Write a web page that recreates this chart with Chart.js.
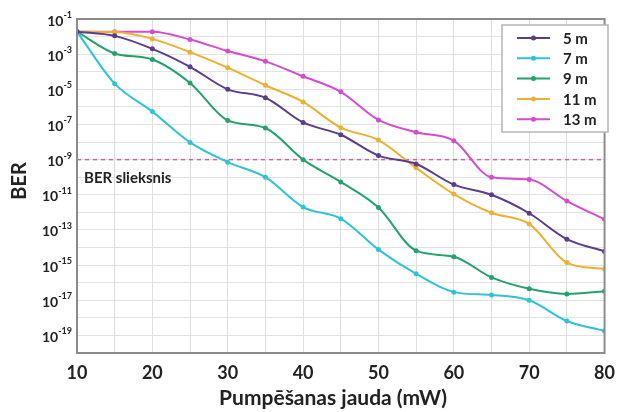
<!DOCTYPE html>
<html>
<head>
<meta charset="utf-8">
<script src="https://cdn.jsdelivr.net/npm/chart.js@4.4.0/dist/chart.umd.min.js"></script>
<style>
  body { margin: 0; background: #fff; }
  #wrap { width: 624px; height: 412px; }
</style>
</head>
<body>
<div id="wrap"><canvas id="berChart"></canvas></div>
<script>
// pump power (mW)
const pumpPower = [10, 15, 20, 25, 30, 35, 40, 45, 50, 55, 60, 65, 70, 75, 80];
const seriesNames = ["5 m", "7 m", "9 m", "11 m", "13 m"];
const seriesColors = ["#5b3d8c", "#2fc3d6", "#23a36b", "#eeb031", "#d64bcf"];

// BER
const ber5m  = [1.9e-2, 1.1e-2, 2.0e-3, 1.9e-4, 1.0e-5, 3.3e-6, 1.3e-7, 2.6e-8, 1.7e-9, 5.6e-10, 3.8e-11, 1.0e-11, 8.9e-13, 3.0e-14, 6.0e-15];
const ber7m  = [1.9e-2, 2.1e-5, 5.4e-7, 9.5e-9, 7.2e-10, 1.0e-10, 2.0e-12, 4.4e-13, 7.6e-15, 3.2e-16, 2.9e-17, 2.0e-17, 1.0e-17, 6.6e-19, 1.8e-19];
const ber9m  = [1.9e-2, 1.1e-3, 5.0e-4, 2.3e-5, 1.7e-7, 6.3e-8, 1.0e-9, 5.4e-11, 1.9e-12, 6.6e-15, 3.0e-15, 2.0e-16, 4.5e-17, 2.3e-17, 3.3e-17];
const ber11m = [1.9e-2, 1.8e-2, 7.4e-3, 1.3e-3, 1.7e-4, 1.7e-5, 1.9e-6, 6.6e-8, 1.3e-8, 3.4e-10, 1.1e-11, 9.5e-13, 2.2e-13, 1.4e-15, 6.0e-16];
const ber13m = [1.9e-2, 1.9e-2, 1.9e-2, 6.8e-3, 1.5e-3, 3.9e-4, 5.5e-5, 7.2e-6, 1.8e-7, 3.6e-8, 1.2e-8, 1.0e-10, 7.4e-11, 4.4e-12, 4.0e-13];
const allSeries = [ber5m, ber7m, ber9m, ber11m, ber13m];

const thresholdBER = 1e-9;
const yTickExponents = [-1, -3, -5, -7, -9, -11, -13, -15, -17, -19];
const xTickLabels = [10, 20, 30, 40, 50, 60, 70, 80];

const FONT = "Lato, 'Open Sans', sans-serif";

const datasets = allSeries.map((vals, i) => ({
  label: seriesNames[i],
  data: vals.map((v, j) => ({ x: pumpPower[j], y: v })),
  borderColor: seriesColors[i],
  backgroundColor: seriesColors[i],
  borderWidth: 2,
  pointRadius: 2.5,
  pointBorderWidth: 0,
  cubicInterpolationMode: "monotone",
}));

datasets.push({
  label: "threshold",
  data: [{ x: pumpPower[0], y: thresholdBER }, { x: pumpPower[pumpPower.length - 1], y: thresholdBER }],
  borderColor: "#c8679f",
  borderWidth: 1.5,
  borderDash: [4, 4],
  pointRadius: 0,
});

const overlay = {
  id: "overlay",
  afterDraw(chart) {
    const c = chart.ctx;
    const area = chart.chartArea;
    const ys = chart.scales.y;
    c.save();

    // frame
    c.strokeStyle = "#8c8c8c";
    c.lineWidth = 2;
    c.strokeRect(area.left, area.top, area.right - area.left, area.bottom - area.top);

    // y tick labels with superscripts
    c.fillStyle = "#222";
    c.textBaseline = "middle";
    yTickExponents.forEach(e => {
      const y = ys.getPixelForValue(Math.pow(10, e));
      const sup = String(e).replace("-", "-");
      c.font = "bold 9px " + FONT;
      const supW = c.measureText(sup).width;
      c.textAlign = "right";
      c.fillText(sup, 72, y - 4);
      c.font = "bold 14px " + FONT;
      c.fillText("10", 72 - supW, y + 2);
    });

    // axis titles
    c.font = "bold 21px " + FONT;
    c.textAlign = "center";
    c.fillText("Pumpēšanas jauda (mW)", 333, 398);
    c.save();
    c.translate(20, 181);
    c.rotate(-Math.PI / 2);
    c.font = "bold 20px " + FONT;
    c.fillText("BER", 0, 0);
    c.restore();

    // threshold label
    c.font = "bold 15px " + FONT;
    c.textAlign = "left";
    c.fillText("BER slieksnis", 84, 178);

    // legend
    const lx = 502, ly = 25, lw = 106, lh = 107;
    c.fillStyle = "#fff";
    c.fillRect(lx, ly, lw, lh);
    c.strokeStyle = "#b5b5b5";
    c.lineWidth = 1.5;
    c.strokeRect(lx, ly, lw, lh);
    seriesNames.forEach((name, i) => {
      const y = ly + 13 + i * 20.3;
      c.strokeStyle = seriesColors[i];
      c.lineWidth = 2;
      c.beginPath();
      c.moveTo(517, y);
      c.lineTo(550, y);
      c.stroke();
      c.fillStyle = seriesColors[i];
      c.beginPath();
      c.arc(533.5, y, 2.5, 0, Math.PI * 2);
      c.fill();
      c.fillStyle = "#222";
      c.font = "bold 15px " + FONT;
      c.textAlign = "left";
      c.fillText(name, 563, y + 1);
    });
    c.restore();
  }
};

new Chart(document.getElementById("berChart"), {
  type: "line",
  data: { datasets },
  options: {
    responsive: true,
    maintainAspectRatio: false,
    animation: false,
    layout: { padding: { top: 19, right: 9, left: 0, bottom: 0 } },
    plugins: { legend: { display: false }, tooltip: { enabled: false } },
    scales: {
      x: {
        type: "linear",
        min: 10,
        max: 80,
        afterFit: s => { s.height = 59; },
        ticks: {
          stepSize: 5,
          padding: 9,
          color: "#222",
          font: { family: FONT, size: 18, weight: "bold" },
          callback: v => (xTickLabels.includes(v) ? String(v) : ""),
        },
        grid: { color: "#dedede", drawTicks: false },
        border: { display: false },
      },
      y: {
        type: "logarithmic",
        min: 1e-20,
        max: 1e-1,
        afterFit: s => { s.width = 77; },
        afterBuildTicks: s => {
          const t = [];
          for (let e = -20; e <= -1; e++) t.push({ value: Math.pow(10, e) });
          s.ticks = t;
        },
        ticks: { display: false },
        grid: { color: "#e2e2e2", drawTicks: false },
        border: { display: false },
      },
    },
  },
  plugins: [overlay],
});
</script>
</body>
</html>
